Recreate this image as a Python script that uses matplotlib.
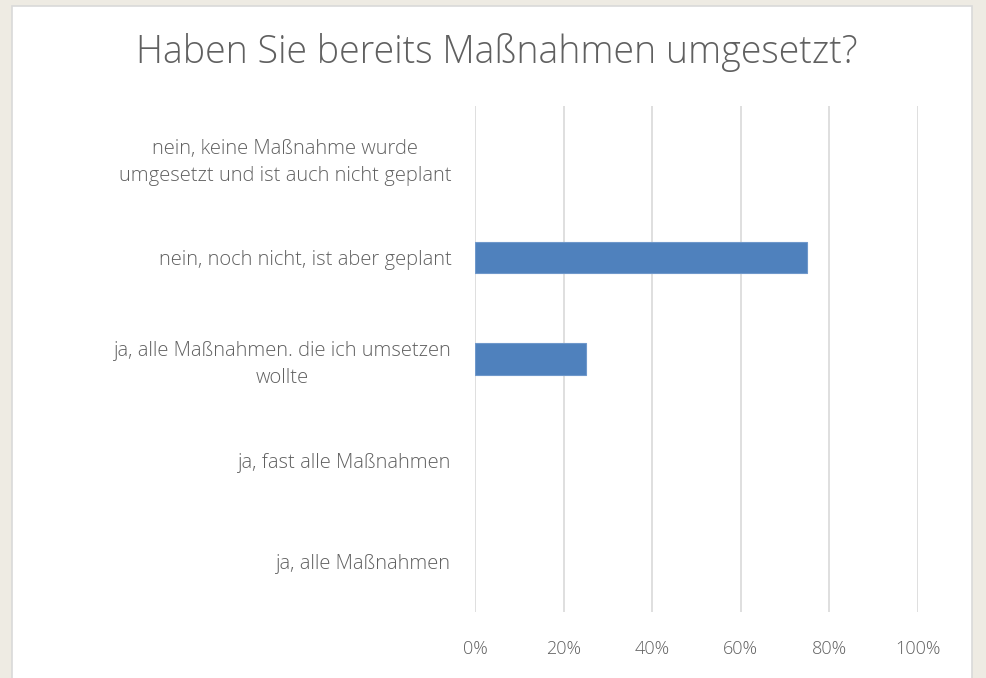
import matplotlib.pyplot as plt
from matplotlib.patches import Rectangle

# data (top to bottom as shown)
categories = [
    "nein, keine Maßnahme wurde\numgesetzt und ist auch nicht geplant",
    "nein, noch nicht, ist aber geplant",
    "ja, alle Maßnahmen. die ich umsetzen\nwollte",
    "ja, fast alle Maßnahmen",
    "ja, alle Maßnahmen",
]
shares = [0, 75, 25, 0, 0]
x_ticks = [0, 20, 40, 60, 80, 100]
x_labels = ["0%", "20%", "40%", "60%", "80%", "100%"]

plt.rcParams['font.family'] = ['Open Sans', 'Lato', 'DejaVu Sans']
text_color = "#606060"

fig = plt.figure(figsize=(9.87, 6.78), dpi=100)
fig.patch.set_facecolor("#EEEBE3")

# white chart panel behind everything
bg = fig.add_axes([0, 0, 1, 1], zorder=-1)
bg.set_xlim(0, 987)
bg.set_ylim(678, 0)
bg.axis("off")
bg.add_patch(Rectangle((12, 6), 960, 680, facecolor="white",
                       edgecolor="#D9D9D9", linewidth=1.2))

ax = fig.add_axes([475 / 987, 1 - 612 / 678, (918 - 475) / 987, (612 - 106) / 678])
ax.set_facecolor("none")

pos = list(range(len(categories)))
edge_w = [0.8 if v > 0 else 0 for v in shares]
ax.barh(pos, shares, height=0.31, color="#4F81BD", edgecolor="#6F98CB",
        linewidth=edge_w, zorder=3)

ax.set_ylim(len(categories) - 0.5, -0.5)
ax.set_yticks(pos)
ax.set_yticklabels(categories, fontsize=14.5, color=text_color,
                   fontweight="light", multialignment="center", linespacing=1.45)
ax.set_xlim(0, 100)
ax.set_xticks(x_ticks)
ax.set_xticklabels(x_labels, fontsize=13, color=text_color, fontweight="light")
ax.tick_params(axis="both", length=0)
ax.tick_params(axis="x", pad=20)
ax.tick_params(axis="y", pad=17)
ax.grid(axis="x", color="#D9D9D9", linewidth=1.2, zorder=0)
for s in ax.spines.values():
    s.set_visible(False)

fig.text(497 / 987, 1 - 53 / 678, "Haben Sie bereits Maßnahmen umgesetzt?",
         ha="center", va="center", fontsize=27, color=text_color,
         fontweight="light")

fig.savefig("out.png", dpi=100, facecolor=fig.get_facecolor())
